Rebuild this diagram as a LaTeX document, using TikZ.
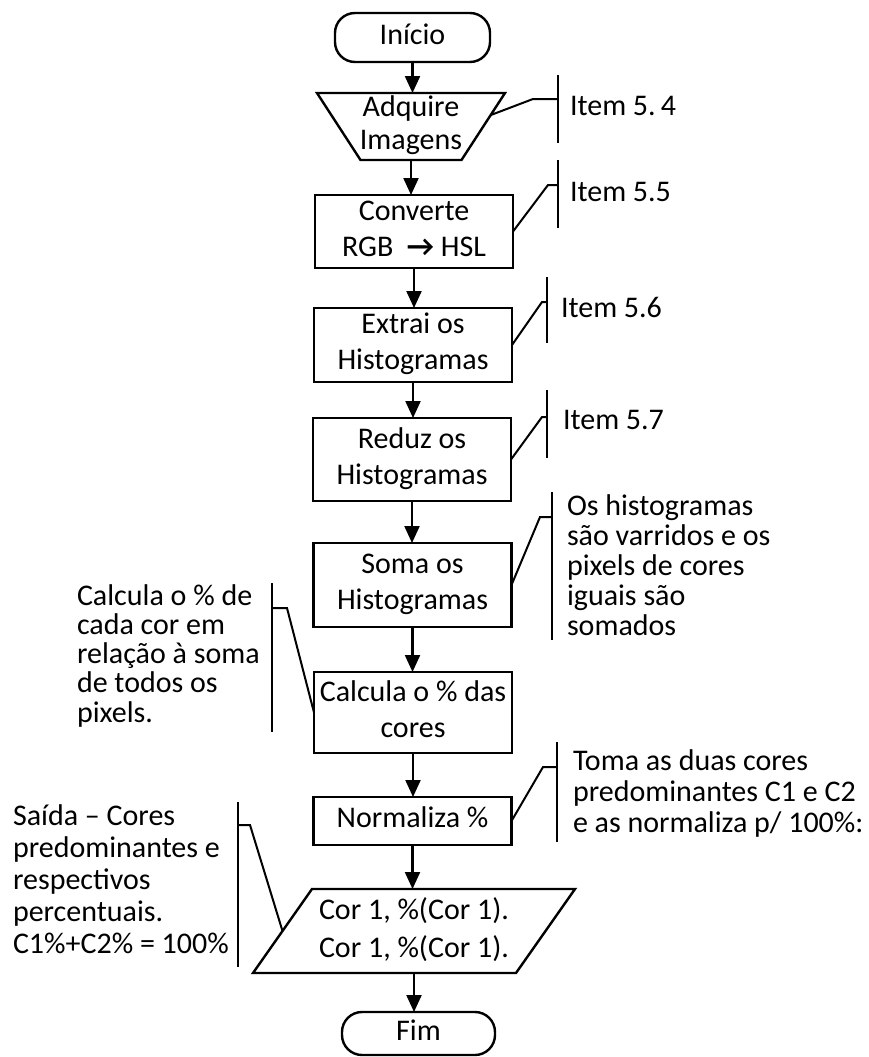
\documentclass[tikz,border=0pt]{standalone}
\usepackage{fontspec}
\setmainfont{Carlito}
\usetikzlibrary{arrows.meta,calc}
% fixed line strut: 21pt above, 7.5pt below the baseline
\newcommand{\ls}{\rule[-7.5pt]{0pt}{28.5pt}}

\begin{document}
\begin{tikzpicture}[x=1pt,y=-1pt,
  every node/.style={inner sep=0pt,outer sep=0pt},
  shapeline/.style={line width=2.4pt},
  box/.style={draw,shapeline,minimum width=198pt,align=center,font=\fontsize{30}{36}\selectfont},
  term/.style={draw,shapeline,rounded corners=20pt,minimum width=155pt,minimum height=49pt,font=\fontsize{30}{30}\selectfont},
  flow/.style={line width=2.2pt,-{Triangle[width=15pt,length=17pt]}},
  note/.style={align=left,anchor=north west},
  itemlabel/.style={anchor=base west,font=\fontsize{30}{30}\selectfont},
  bar/.style={line width=2.2pt},
  lead/.style={line width=2pt},
]
\useasboundingbox (0,0) rectangle (869,1057);

% ---- main flow ----
\node[term] (start) at (412.5,37.5) {\ls Início};

\node[minimum width=188pt,minimum height=67pt,align=center,font=\fontsize{30}{33}\selectfont]
  (adq) at (411,126.5) {\ls Adquire\\\ls Imagens};
\coordinate (adqbr) at ([xshift=-43.5pt]adq.south east);
\coordinate (adqbl) at ([xshift=43.5pt]adq.south west);
\draw[shapeline] (adq.north west) -- (adq.north east) -- (adqbr) -- (adqbl) -- cycle;

\node[box,minimum height=73pt] (conv) at (414,231.5)
  {\ls Converte\\\ls RGB \ \textbf{→} HSL};
\node[box,minimum height=74pt] (extr) at (413,345) {\ls Extrai os\\\ls Histogramas};
\node[box,minimum height=83pt] (red) at (412,459.5) {\ls Reduz os\\\ls Histogramas};
\node[box,minimum height=84pt] (soma) at (412.5,585) {\ls Soma os\\\ls Histogramas};
\node[box,minimum height=81pt] (calc) at (413,712.5) {\ls Calcula o \% das\\\ls cores};
\node[box,minimum height=48pt] (norm) at (412.5,821) {\ls Normaliza \%};

\node[minimum width=322pt,minimum height=84pt,align=center,font=\fontsize{30}{38}\selectfont]
  (out) at (414,931) {\ls Cor 1, \%(Cor 1).\\\ls Cor 1, \%(Cor 1).};
\coordinate (outtl) at ([xshift=59pt]out.north west);
\coordinate (outbr) at ([xshift=-59pt]out.south east);
\draw[shapeline] (outtl) -- (out.north east) -- (outbr) -- (out.south west) -- cycle;

\node[term,minimum width=153pt,minimum height=43pt] (fim) at (418.5,1033.5) {\ls Fim};

\draw[flow] (start.south) -- (start.south |- adq.north);
\draw[flow] (adq.south) -- (adq.south |- conv.north);
\draw[flow] (conv.south) -- (conv.south |- extr.north);
\draw[flow] (extr.south) -- (extr.south |- red.north);
\draw[flow] (red.south) -- (red.south |- soma.north);
\draw[flow] (soma.south) -- (soma.south |- calc.north);
\draw[flow] (calc.south) -- (calc.south |- norm.north);
\draw[flow] (norm.south) -- (norm.south |- out.north);
\draw[flow] (out.south) -- (out.south |- fim.north);

% ---- annotations ----
\node[itemlabel] (i54) at (570,115) {Item 5.\,4};
\coordinate (b54a) at (558,75); \coordinate (b54b) at (558,143); \coordinate (k54) at (533,99);
\draw[bar] (b54a) -- (b54b);
\draw[lead] ($(adq.north east)!0.33!(adqbr)$) -- (k54) -- (k54 -| b54a);

\node[itemlabel] (i55) at (570,201) {Item 5.5};
\coordinate (b55a) at (558,160); \coordinate (b55b) at (558,228); \coordinate (k55) at (548,185);
\draw[bar] (b55a) -- (b55b);
\draw[lead] (conv.east) -- (k55) -- (k55 -| b55a);

\node[itemlabel] (i56) at (561,317) {Item 5.6};
\coordinate (b56a) at (547,277); \coordinate (b56b) at (547,343); \coordinate (k56) at (542,302);
\draw[bar] (b56a) -- (b56b);
\draw[lead] (extr.east) -- (k56) -- (k56 -| b56a);

\node[itemlabel] (i57) at (563,429) {Item 5.7};
\coordinate (b57a) at (547,390); \coordinate (b57b) at (547,458); \coordinate (k57) at (542,417);
\draw[bar] (b57a) -- (b57b);
\draw[lead] (red.east) -- (k57) -- (k57 -| b57a);

\node[note,font=\fontsize{30}{30}\selectfont] (nsoma) at (567,494)
  {\ls Os histogramas\\\ls são varridos e os\\\ls pixels de cores\\\ls iguais são\\\ls somados};
\coordinate (bsa) at (552,492); \coordinate (bsb) at (552,640); \coordinate (ks) at (540,517);
\draw[bar] (bsa) -- (bsb);
\draw[lead] (soma.east) -- (ks) -- (ks -| bsa);

\node[note,font=\fontsize{30}{29.25}\selectfont] (ncalc) at (77,584)
  {\ls Calcula o \% de\\\ls cada cor em\\\ls relação à soma\\\ls de todos os\\\ls pixels.};
\coordinate (bca) at (272,583); \coordinate (bcb) at (272,732); \coordinate (kc) at (287,608);
\draw[bar] (bca) -- (bcb);
\draw[lead] (calc.west) -- (kc) -- (kc -| bca);

\node[note,font=\fontsize{30}{31}\selectfont] (nnorm) at (573,749)
  {\ls Toma as duas cores\\\ls predominantes C1 e C2\\\ls e as normaliza p/ 100\%:};
\coordinate (bna) at (557,742); \coordinate (bnb) at (557,842); \coordinate (kn) at (543,767);
\draw[bar] (bna) -- (bnb);
\draw[lead] (norm.east) -- (kn) -- (kn -| bna);

\node[note,font=\fontsize{30}{32}\selectfont] (nsaida) at (13,804)
  {\ls Saída – Cores\\\ls predominantes e\\\ls respectivos\\\ls percentuais.\\\ls C1\%+C2\% = 100\%};
\coordinate (bda) at (238,802); \coordinate (bdb) at (238,967); \coordinate (kd) at (250,825);
\draw[bar] (bda) -- (bdb);
\draw[lead] ($(out.south west)!0.5!(outtl)$) -- (kd) -- (kd -| bda);

\end{tikzpicture}
\end{document}
